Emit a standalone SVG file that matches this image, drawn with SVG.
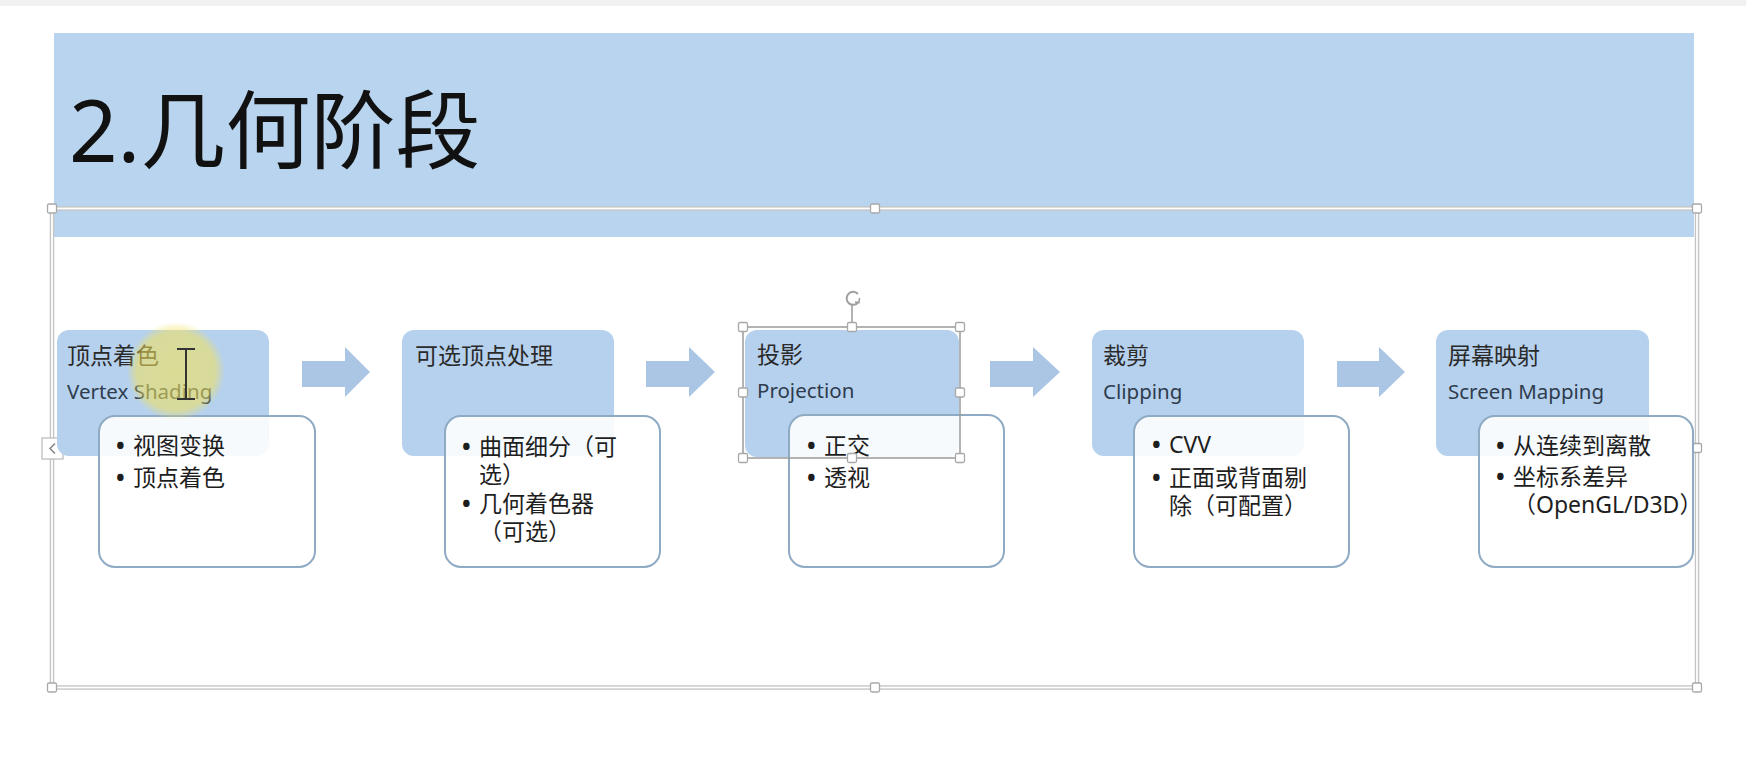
<svg xmlns="http://www.w3.org/2000/svg" width="1746" height="767" viewBox="0 0 1746 767">
<defs>
<style>
.t{font-family:"Noto Sans","Noto Sans CJK SC",sans-serif}
.title{font-size:85px;fill:#111}
.h{font-size:23px;fill:#2a2a2a}
.en{font-size:20.5px;fill:#2E3C4E}
.b{font-size:23px;fill:#1e1e1e}
.d{font-weight:700}
.blue{fill:#B6D1ED}
.card{fill:#fff;fill-opacity:0.88;stroke:#8FAAC3;stroke-width:2}
.arrow{fill:#ABC5E5}
.hdl{fill:#fff;stroke:#A8A8A8;stroke-width:1.3}
.sel{fill:none;stroke:#9A9A9A;stroke-width:1.5}
</style>
<radialGradient id="hl" cx="0.5" cy="0.5" r="0.5">
<stop offset="0" stop-color="#F2E25A" stop-opacity="0.6"/>
<stop offset="0.8" stop-color="#F2E25A" stop-opacity="0.55"/>
<stop offset="1" stop-color="#F2E25A" stop-opacity="0"/>
</radialGradient>
</defs>
<rect width="1746" height="767" fill="#fff"/>
<rect width="1746" height="6" fill="#F1F1F1"/>

<g id="banner">
<rect x="54" y="33" width="1640" height="204" fill="#B8D4EE"/>
<text class="t title" x="69" y="162">2.几何阶段</text>
</g>

<g id="frame">
<rect x="52" y="208.5" width="1645" height="479" fill="none" stroke="#C4C4C4" stroke-width="4.5"/>
<rect x="52" y="208.5" width="1645" height="479" fill="none" stroke="#fff" stroke-width="1.8"/>
<rect class="hdl" x="47.5" y="204" width="9" height="9" rx="1.5"/>
<rect class="hdl" x="870.5" y="204" width="9" height="9" rx="1.5"/>
<rect class="hdl" x="1692.5" y="204" width="9" height="9" rx="1.5"/>
<rect class="hdl" x="1692.5" y="443.5" width="9" height="9" rx="1.5"/>
<rect class="hdl" x="47.5" y="683" width="9" height="9" rx="1.5"/>
<rect class="hdl" x="870.5" y="683" width="9" height="9" rx="1.5"/>
<rect class="hdl" x="1692.5" y="683" width="9" height="9" rx="1.5"/>
<rect x="42" y="438" width="21" height="21" fill="#fff" stroke="#B8B8B8" stroke-width="1.2"/>
<polyline points="55,443.5 50,448.5 55,453.5" fill="none" stroke="#888" stroke-width="1.6"/>
</g>

<g id="connectors">
<polygon class="arrow" points="302,361 345,361 345,347 370,372 345,397 345,387 302,387"/>
<polygon class="arrow" points="646,361 689,361 689,347 715,372 689,397 689,387 646,387"/>
<polygon class="arrow" points="990,361 1033,361 1033,347 1060,372 1033,397 1033,387 990,387"/>
<polygon class="arrow" points="1337,361 1379,361 1379,347 1405,372 1379,397 1379,387 1337,387"/>
</g>

<g id="node1">
<rect class="blue" x="57" y="330" width="212" height="126" rx="12"/>
<text class="t h" x="67" y="364">顶点着色</text>
<text class="t en" x="67" y="399">Vertex Shading</text>
<rect class="card" x="99" y="416" width="216" height="151" rx="16"/>
<text class="t b" x="116" y="454"><tspan class="d">•</tspan><tspan x="133">视图变换</tspan><tspan class="d" x="116" dy="32">•</tspan><tspan x="133">顶点着色</tspan></text>
</g>

<g id="node2">
<rect class="blue" x="402" y="330" width="212" height="126" rx="12"/>
<text class="t h" x="415" y="364">可选顶点处理</text>
<rect class="card" x="445" y="416" width="215" height="151" rx="16"/>
<text class="t b" x="462" y="455"><tspan class="d">•</tspan><tspan x="479">曲面细分（可</tspan><tspan x="479" dy="28">选）</tspan><tspan class="d" x="462" dy="29">•</tspan><tspan x="479">几何着色器</tspan><tspan x="479" dy="28">（可选）</tspan></text>
</g>

<g id="node3">
<rect class="blue" x="745" y="330" width="214" height="127" rx="12"/>
<text class="t h" x="757" y="363">投影</text>
<text class="t en" x="757" y="398">Projection</text>
<rect class="card" x="789" y="415" width="215" height="152" rx="16"/>
<text class="t b" x="807" y="454"><tspan class="d">•</tspan><tspan x="824">正交</tspan><tspan class="d" x="807" dy="32">•</tspan><tspan x="824">透视</tspan></text>
<rect class="sel" x="743" y="327" width="217" height="131"/>
<line x1="852" y1="305" x2="852" y2="327" stroke="#9A9A9A" stroke-width="1.5"/>
<path d="M858,294 A6.5,6.5 0 1 0 858.5,302" fill="none" stroke="#A0A0A0" stroke-width="2"/>
<polyline points="855,302 859,302.5 859.5,298" fill="none" stroke="#A0A0A0" stroke-width="1.6"/>
<rect class="hdl" x="738.5" y="322.5" width="9" height="9" rx="1.5"/>
<rect class="hdl" x="847.5" y="322.5" width="9" height="9" rx="1.5"/>
<rect class="hdl" x="955.5" y="322.5" width="9" height="9" rx="1.5"/>
<rect class="hdl" x="738.5" y="388" width="9" height="9" rx="1.5"/>
<rect class="hdl" x="955.5" y="388" width="9" height="9" rx="1.5"/>
<rect class="hdl" x="738.5" y="453.5" width="9" height="9" rx="1.5"/>
<rect class="hdl" x="847.5" y="453.5" width="9" height="9" rx="1.5"/>
<rect class="hdl" x="955.5" y="453.5" width="9" height="9" rx="1.5"/>
</g>

<g id="node4">
<rect class="blue" x="1092" y="330" width="212" height="126" rx="12"/>
<text class="t h" x="1103" y="364">裁剪</text>
<text class="t en" x="1103" y="399">Clipping</text>
<rect class="card" x="1134" y="416" width="215" height="151" rx="16"/>
<text class="t b" x="1152" y="453"><tspan class="d">•</tspan><tspan x="1169">CVV</tspan><tspan class="d" x="1152" dy="33">•</tspan><tspan x="1169">正面或背面剔</tspan><tspan x="1169" dy="28">除（可配置）</tspan></text>
</g>

<g id="node5">
<rect class="blue" x="1436" y="330" width="213" height="126" rx="12"/>
<text class="t h" x="1448" y="364">屏幕映射</text>
<text class="t en" x="1448" y="399">Screen Mapping</text>
<rect class="card" x="1479" y="416" width="214" height="151" rx="16"/>
<text class="t b" x="1496" y="454"><tspan class="d">•</tspan><tspan x="1513">从连续到离散</tspan><tspan class="d" x="1496" dy="31">•</tspan><tspan x="1513">坐标系差异</tspan><tspan x="1513" dy="28">（OpenGL/D3D）</tspan></text>
</g>

<g id="cursor">
<circle cx="176" cy="371" r="49" fill="url(#hl)"/>
<path d="M177,349 H195 M186,349 V399 M177,399 H195" fill="none" stroke="#333" stroke-width="2"/>
</g>
</svg>
